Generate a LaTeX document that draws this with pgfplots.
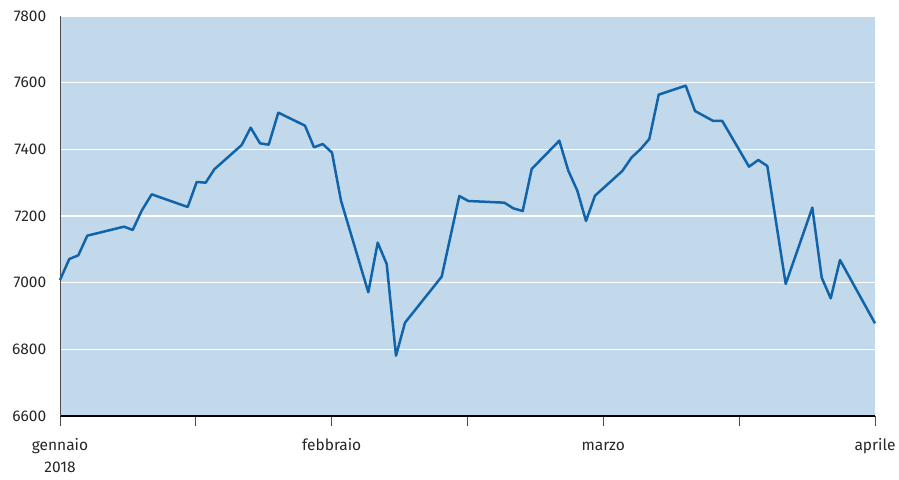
\documentclass[border=0pt]{standalone}
\usepackage{pgfplots}
\pgfplotsset{compat=1.18}
\usepackage{fontspec}
\setmainfont{Fira Sans}
\definecolor{bgblue}{RGB}{194,217,235}
\definecolor{lineblue}{RGB}{18,100,170}
\begin{document}
\begin{tikzpicture}
\begin{axis}[
  scale only axis,
  width=815bp, height=400bp,
  xmin=0, xmax=815, ymin=6600, ymax=7800,
  axis lines=left,
  axis line style={-},
  x axis line style={black, line width=2bp},
  y axis line style={black!70, line width=1bp},
  axis background/.style={fill=bgblue},
  ytick={6600,6800,7000,7200,7400,7600,7800},
  xtick={0,135.8,271.7,407.5,543.3,679.2,815},
  xticklabels={{\strut gennaio\\2018},,\strut febbraio,,\strut marzo,,\strut aprile},
  xticklabel style={align=center, font=\fontsize{15.5bp}{22bp}\selectfont, text=black!85, yshift=-11bp},
  yticklabel style={font=\fontsize{15.5bp}{18bp}\selectfont, text=black!85, xshift=-6bp},
  /pgf/number format/assume math mode=true,
  /pgf/number format/1000 sep={},
  ymajorgrids,
  major grid style={white, line width=1.3bp},
  tick align=outside,
  xtick style={black!70, line width=1bp},
  x tick style={/pgfplots/major tick length=10bp},
  y tick style={draw=none},
  clip=false,
]
\addplot[lineblue, line width=2.5bp, line join=round] coordinates {
(0,7008) (9.3,7071) (18.3,7082) (27.3,7141) (64,7168) (72.7,7158) (81.7,7216)
(91.7,7265) (127.7,7227) (136.7,7302) (145.7,7300) (154.3,7340) (181.7,7413)
(190.7,7465) (200,7418) (208.7,7414) (218.3,7510) (245,7471) (254,7406)
(262.7,7416) (272,7390) (281,7246) (308.3,6971) (317.7,7120) (326.7,7056)
(336,6781) (345,6880) (381.7,7018) (399.3,7260) (408.3,7245) (444.3,7240)
(453.3,7223) (462.7,7215) (471.7,7341) (499.3,7426) (508.3,7336) (517.3,7276)
(526,7185) (535,7261) (562.3,7335) (571.7,7376) (580.7,7401) (589.3,7431)
(598.7,7564) (625.7,7591) (635,7515) (653.3,7485) (662.3,7485) (689,7348)
(698.3,7368) (707.3,7350) (725.7,6996) (752.3,7225) (761.7,7015) (770.7,6953)
(780,7068) (815,6878)
};
\coordinate (ll) at (rel axis cs:0,0);
\coordinate (ur) at (rel axis cs:1,1);
\end{axis}
\pgfresetboundingbox
\path ([shift={(-60bp,-64bp)}]ll) rectangle ([shift={(24bp,16bp)}]ur);
\end{tikzpicture}
\end{document}
